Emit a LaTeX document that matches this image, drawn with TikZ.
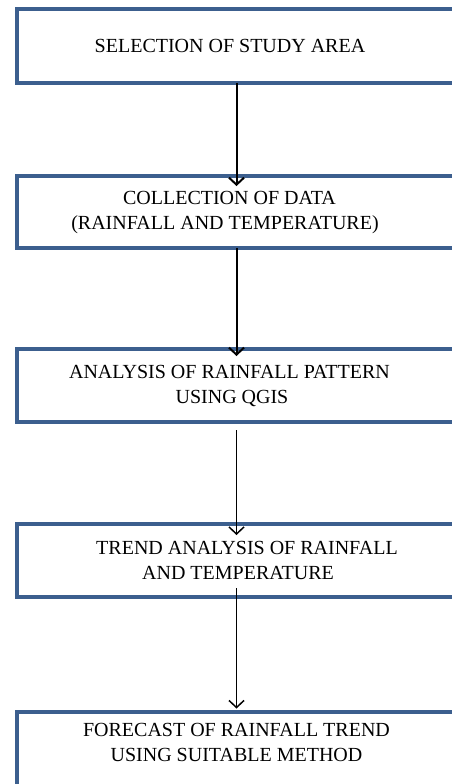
\documentclass[tikz,border=0pt]{standalone}
\usepackage{fontspec}
\setmainfont{Liberation Serif}
\usetikzlibrary{arrows.meta}
\definecolor{boxblue}{RGB}{60,95,142}

\begin{document}
\begin{tikzpicture}[x=1pt,y=-1pt,
    box/.style={draw=boxblue,line width=4pt,rectangle,minimum width=439pt,
      inner sep=0pt,outer sep=0pt,align=center,
      font=\fontsize{20}{25}\selectfont},
    flow/.style={-{Straight Barb[length=7pt,width=15pt]},line width=2pt},
    thinflow/.style={-{Straight Barb[length=7pt,width=15pt]},line width=1.5pt}]
  \useasboundingbox (0,0) rectangle (452,784);
  \node[box,minimum height=74.6pt] (sel) at (236.5,46)
  {\hspace*{-13pt}SELECTION OF STUDY AREA};
  \node[box,minimum height=72.3pt] (col) at (236.5,212.2)
  {\hspace*{-14pt}COLLECTION OF DATA\\\hspace*{-23pt}(RAINFALL AND TEMPERATURE)};
  \node[box,minimum height=73pt] (ana) at (236.5,385.5)
  {\hspace*{-14pt}ANALYSIS OF RAINFALL PATTERN\\\hspace*{-9pt}USING QGIS};
  \node[box,minimum height=73pt] (trd) at (236.5,560.5)
  {\hspace*{21pt}TREND ANALYSIS OF RAINFALL\\\hspace*{3pt}AND TEMPERATURE};
  % last box runs off the page
  \node[box,minimum height=84pt,text depth=23pt] (fct) at (236.5,753.5)
  {FORECAST OF RAINFALL TREND\\USING SUITABLE METHOD};
  \draw[flow] (sel.south) -- ([yshift=-10pt]col.north);
  \draw[flow] (col.south) -- ([yshift=-7pt]ana.north);
  \draw[thinflow] ([yshift=-8pt]ana.south) -- ([yshift=-11pt]trd.north);
  \draw[thinflow] ([yshift=9pt]trd.south) -- ([yshift=3pt]fct.north);
\end{tikzpicture}
\end{document}
